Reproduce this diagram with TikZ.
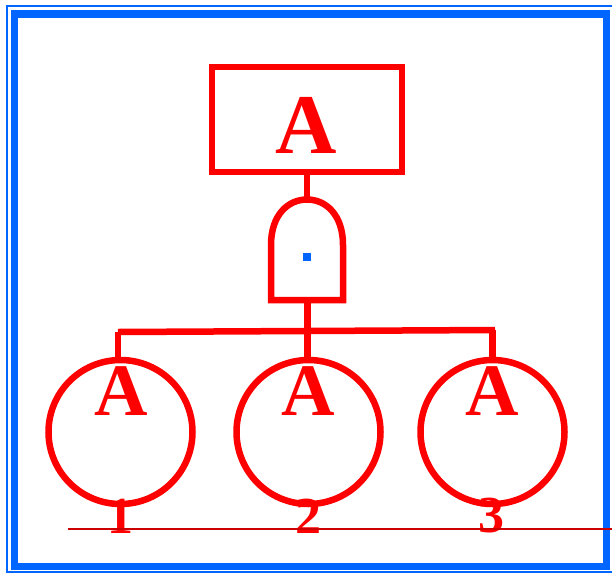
\documentclass[tikz,border=0pt]{standalone}
\usepackage{fontspec}
\setmainfont{Liberation Serif}
\definecolor{frameblue}{HTML}{0066FF}
\definecolor{linered}{HTML}{CC0000}
\tikzset{
  redline/.style={draw=red,line width=6.5pt},
  eventbox/.style={redline,rectangle,minimum width=190pt,minimum height=105pt,inner sep=0pt},
  basiccircle/.style={redline,circle,minimum size=144pt,inner sep=0pt},
  biglabel/.style={text=red,font=\bfseries\fontsize{85}{85}\selectfont,inner sep=0pt},
  midlabel/.style={text=red,font=\bfseries\fontsize{74}{74}\selectfont,inner sep=0pt},
  numlabel/.style={text=red,font=\bfseries\fontsize{52}{52}\selectfont,inner sep=0pt}
}
\begin{document}
\begin{tikzpicture}[x=1pt,y=-1pt]
\useasboundingbox (0,0) rectangle (612,573);
\draw[frameblue,line width=2pt] (7,6.3) rectangle (616,571.5);
\draw[frameblue,line width=7.5pt] (14.5,14) rectangle (606.5,566.5);
\node[eventbox] (top) at (307,119.5) {};
\node[biglabel] (topA) at (306.5,125) {A};
\coordinate (gateTop) at (307,199.5);
\coordinate (gateBot) at (307,300);
\draw[redline] (271,300) -- (271,245)
  .. controls (271,215) and (288,199.5) .. (gateTop)
  .. controls (326,199.5) and (343,215) .. (343,245)
  -- (343,300) -- cycle;
\node[fill=frameblue,minimum size=8pt,inner sep=0pt] (dot) at (307,257) {};
\draw[redline] (top.south) -- (gateTop);
\coordinate (busL) at (118,332);
\coordinate (busM) at (307.5,331);
\coordinate (busR) at (495,330);
\draw[redline] (gateBot -| busM) -- (busM);
\draw[redline] (busL) -- (busR);
\node[basiccircle] (c1) at (120.5,432) {};
\node[basiccircle] (c2) at (308.5,432) {};
\node[basiccircle] (c3) at (492.5,432) {};
\draw[redline] (busL) -- (c1.north -| busL);
\draw[redline] (busM) -- (c2.north -| busM);
\draw[redline] (c3.north |- busR) -- (c3.north);
\node[midlabel] (a1) at (121,391) {A};
\node[midlabel] (a2) at (308,391) {A};
\node[midlabel] (a3) at (492.5,391) {A};
\node[numlabel] (n1) at (120,516) {1};
\node[numlabel] (n2) at (308,516) {2};
\node[numlabel] (n3) at (491,516) {3};
\coordinate (ruleL) at (68,528.5);
\coordinate (ruleR) at (612,528.5);
\draw[linered,line width=2pt] (ruleL) -- (ruleR);
\end{tikzpicture}
\end{document}
